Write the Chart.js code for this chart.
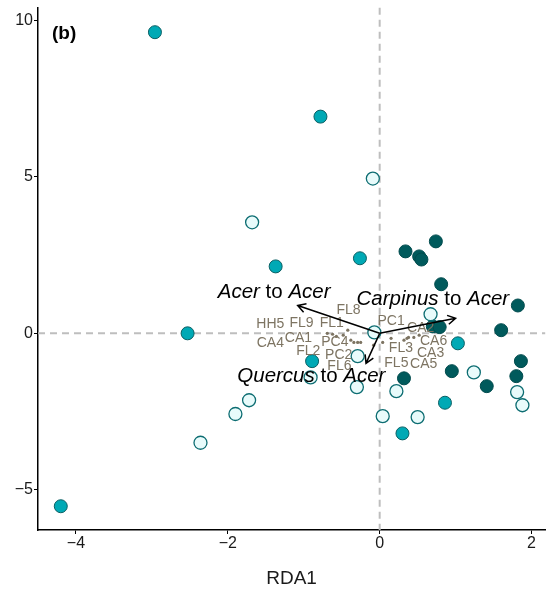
<!DOCTYPE html>
<html>
<head>
<meta charset="utf-8">
<script src="https://cdn.jsdelivr.net/npm/chart.js@4.4.1/dist/chart.umd.min.js"></script>
<style>
  html, body { margin: 0; padding: 0; background: #fff; overflow: hidden; }
  #wrap { width: 548px; height: 594px; overflow: hidden; }
</style>
</head>
<body>
<div id="wrap"><canvas id="rdaChart" width="553" height="594"></canvas></div>
<script>
// RDA biplot, panel (b)

// axis ticks
const xTicks = [-4, -2, 0, 2];
const yTicks = [-5, 0, 5, 10];

// sample scores, three groups
const darkX = [0.34, 0.74, 0.52, 0.55, 0.81, 1.82, 1.60, 0.70, 0.79, 1.86, 0.95, 0.32, 1.80, 1.41];
const darkY = [2.62, 2.94, 2.46, 2.36, 1.57, 0.89, 0.10, 0.22, 0.20, -0.89, -1.21, -1.44, -1.37, -1.69];

const midX = [-2.96, -0.78, -1.37, -0.26, -2.53, -0.89, -4.20, 1.03, 0.86, 0.30];
const midY = [9.63, 6.93, 2.14, 2.40, 0.00, -0.89, -5.53, -0.32, -2.22, -3.20];

const lightX = [-0.09, -1.68, 0.67, -0.07, -0.29, -0.30, -0.91, -1.72, -1.90, -2.36, 0.04, 0.22, 0.50, 1.24, 1.81, 1.88];
const lightY = [4.95, 3.55, 0.61, 0.03, -0.73, -1.72, -1.41, -2.14, -2.58, -3.50, -2.65, -1.85, -2.68, -1.25, -1.88, -2.30];

// site scores (small points) and their labels
const siteX = [-0.69, -0.62, -0.57, -0.48, -0.42, -0.38, -0.34, -0.29, -0.25, -0.08, 0.04, 0.15, 0.32, 0.36, 0.38, 0.45, 0.52];
const siteY = [0.00, -0.03, -0.10, -0.06, 0.10, -0.22, -0.29, -0.29, -0.29, -0.38, -0.29, -0.16, -0.22, -0.16, -0.13, -0.13, -0.06];
const siteNames = ['HH5', 'FL9', 'FL1', 'FL8', 'PC1', 'CA2', 'CA4', 'CA1', 'FL2', 'PC4', 'PC2', 'FL6', 'FL3', 'CA6', 'CA3', 'FL5', 'CA5'];
const siteLabelX = [-1.44, -1.03, -0.63, -0.41, 0.15, 0.54, -1.44, -1.07, -0.94, -0.59, -0.54, -0.53, 0.28, 0.71, 0.67, 0.22, 0.58];
const siteLabelY = [0.29, 0.32, 0.32, 0.73, 0.38, 0.16, -0.32, -0.16, -0.58, -0.29, -0.70, -1.05, -0.48, -0.26, -0.64, -0.96, -0.99];

// constraint arrows
const arrowFrom = ['Acer', 'Carpinus', 'Quercus'];
const arrowX = [-1.08, 1.00, -0.18];
const arrowY = [0.89, 0.48, -0.96];
const arrowLabelX = [-1.39, 0.70, -0.90];
const arrowLabelY = [1.31, 1.09, -1.37];

const FONT = "'Liberation Sans', Arial, sans-serif";
Chart.defaults.font.family = FONT;

function pts(xs, ys) {
    return xs.map((x, i) => ({ x: x, y: ys[i] }));
}

// dashed zero lines under the points
const zeroLines = {
    id: 'zeroLines',
    beforeDatasetsDraw(chart) {
        const { ctx, chartArea, scales } = chart;
        const x0 = scales.x.getPixelForValue(0);
        const y0 = scales.y.getPixelForValue(0);
        ctx.save();
        ctx.strokeStyle = '#bebebe';
        ctx.lineWidth = 2;
        ctx.setLineDash([7, 5]);
        ctx.beginPath();
        ctx.moveTo(x0, chartArea.top);
        ctx.lineTo(x0, chartArea.bottom);
        ctx.moveTo(chartArea.left, y0);
        ctx.lineTo(chartArea.right, y0);
        ctx.stroke();
        ctx.restore();
    }
};

// arrows, arrow labels, site labels and the panel tag
const overlay = {
    id: 'overlay',
    afterDatasetsDraw(chart) {
        const { ctx, chartArea, scales } = chart;
        const sx = v => scales.x.getPixelForValue(v);
        const sy = v => scales.y.getPixelForValue(v);
        ctx.save();

        // site labels
        ctx.fillStyle = '#7d7462';
        ctx.font = '14px ' + FONT;
        ctx.textAlign = 'center';
        ctx.textBaseline = 'middle';
        siteNames.forEach((n, i) => {
            ctx.fillText(n, sx(siteLabelX[i]), sy(siteLabelY[i]));
        });

        // arrows
        const ox = sx(0), oy = sy(0);
        ctx.strokeStyle = '#000';
        ctx.lineWidth = 1.5;
        arrowX.forEach((ax, i) => {
            const tx = sx(ax), ty = sy(arrowY[i]);
            const ang = Math.atan2(ty - oy, tx - ox);
            const head = 9, spread = Math.PI / 6;
            ctx.beginPath();
            ctx.moveTo(ox, oy);
            ctx.lineTo(tx, ty);
            ctx.moveTo(tx - head * Math.cos(ang - spread), ty - head * Math.sin(ang - spread));
            ctx.lineTo(tx, ty);
            ctx.lineTo(tx - head * Math.cos(ang + spread), ty - head * Math.sin(ang + spread));
            ctx.stroke();
        });

        // arrow labels: species in italics, "to" upright
        ctx.fillStyle = '#000';
        ctx.textAlign = 'left';
        arrowFrom.forEach((sp, i) => {
            const parts = [
                { t: sp, f: 'italic 20.5px ' + FONT },
                { t: ' to ', f: '20.5px ' + FONT },
                { t: 'Acer', f: 'italic 20.5px ' + FONT }
            ];
            let w = 0;
            parts.forEach(p => { ctx.font = p.f; p.w = ctx.measureText(p.t).width; w += p.w; });
            let x = sx(arrowLabelX[i]) - w / 2;
            const y = sy(arrowLabelY[i]);
            parts.forEach(p => { ctx.font = p.f; ctx.fillText(p.t, x, y); x += p.w; });
        });

        // panel tag
        ctx.font = 'bold 19px ' + FONT;
        ctx.textBaseline = 'middle';
        ctx.fillText('(b)', chartArea.left + 14, chartArea.top + 26);
        ctx.restore();
    }
};

new Chart(document.getElementById('rdaChart').getContext('2d'), {
    type: 'scatter',
    data: {
        datasets: [
            {
                label: 'sites',
                data: pts(siteX, siteY),
                pointRadius: 1.6,
                backgroundColor: '#7d7462',
                borderWidth: 0,
                order: 0
            },
            {
                label: 'dark',
                data: pts(darkX, darkY),
                pointRadius: 6.5,
                backgroundColor: '#005a5c',
                borderColor: '#004b4d',
                borderWidth: 1,
                order: 3
            },
            {
                label: 'mid',
                data: pts(midX, midY),
                pointRadius: 6.5,
                backgroundColor: '#00a9b5',
                borderColor: '#0b5f63',
                borderWidth: 1,
                order: 2
            },
            {
                label: 'light',
                data: pts(lightX, lightY),
                pointRadius: 6.5,
                backgroundColor: '#e8fbfb',
                borderColor: '#0d6d72',
                borderWidth: 1.3,
                order: 1
            }
        ]
    },
    options: {
        responsive: false,
        animation: false,
        layout: { padding: { top: 7, right: 3, left: 0, bottom: 0 } },
        plugins: {
            legend: { display: false },
            tooltip: { enabled: false }
        },
        elements: { point: { hoverRadius: 6.5 } },
        scales: {
            x: {
                type: 'linear',
                min: -4.5,
                max: 2.18,
                afterBuildTicks: s => { s.ticks = xTicks.map(v => ({ value: v })); },
                afterFit: s => { s.height = 64; s.paddingLeft = 0; s.paddingRight = 0; },
                grid: { drawOnChartArea: false, drawTicks: true, tickLength: 4, color: '#000', lineWidth: 1 },
                border: { display: true, color: '#000', width: 1.5 },
                ticks: {
                    padding: 0,
                    color: '#1a1a1a',
                    font: { size: 16 },
                    callback: v => (v < 0 ? '\u2212' + Math.abs(v) : String(v))
                },
                title: {
                    display: true,
                    text: 'RDA1',
                    color: '#1a1a1a',
                    font: { size: 19 },
                    padding: { top: 0, bottom: 4 }
                }
            },
            y: {
                type: 'linear',
                min: -6.29,
                max: 10.41,
                afterBuildTicks: s => { s.ticks = yTicks.map(v => ({ value: v })); },
                afterFit: s => { s.width = 38; s.paddingTop = 0; s.paddingBottom = 0; },
                grid: { drawOnChartArea: false, drawTicks: true, tickLength: 4, color: '#000', lineWidth: 1 },
                border: { display: true, color: '#000', width: 1.5 },
                ticks: {
                    padding: 1,
                    color: '#1a1a1a',
                    font: { size: 16 },
                    callback: v => (v < 0 ? '\u2212' + Math.abs(v) : String(v))
                }
            }
        }
    },
    plugins: [zeroLines, overlay]
});
</script>
</body>
</html>
